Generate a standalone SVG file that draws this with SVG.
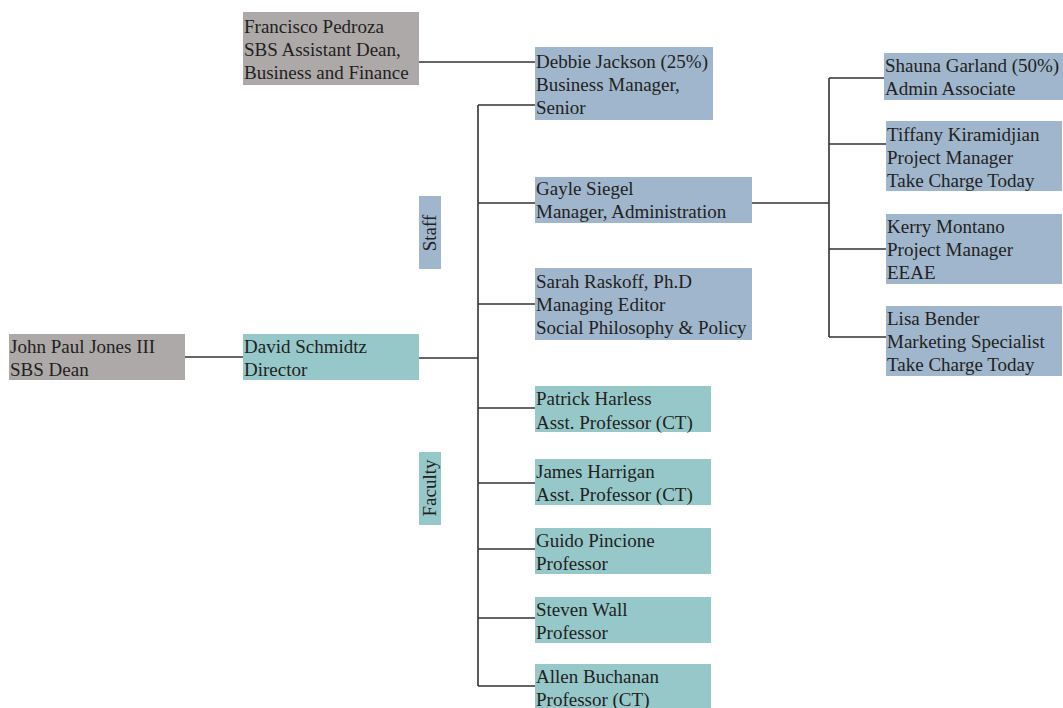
<svg xmlns="http://www.w3.org/2000/svg" width="1063" height="708" viewBox="0 0 1063 708">
<style>
.t{font-family:"Liberation Serif","DejaVu Serif",serif;font-size:19px;fill:#231F20}
.g{fill:#ADA9A8}.b{fill:#A0B6CD}.c{fill:#96C8CA}
.ln{stroke:#333;stroke-width:1.6;fill:none}
</style>
<rect width="1063" height="708" fill="#fff"/>
<g id="connectors" class="ln">
<path d="M419 62H535"/>
<path d="M185 357H243"/>
<path d="M419 358H478"/>
<path d="M478 105V686"/>
<path d="M478 105H535M478 203H535M478 304H535M478 408H535M478 483H535M478 549H535M478 618H535M478 686H535"/>
<path d="M752 203H829"/>
<path d="M829 78V337"/>
<path d="M829 78H884M829 144H886M829 249H886M829 337H886"/>
</g>
<g id="francisco"><rect class="g" x="243" y="12" width="176" height="73"/><text class="t" x="244" y="33">Francisco Pedroza</text><text class="t" x="244" y="56">SBS Assistant Dean,</text><text class="t" x="244" y="79">Business and Finance</text></g>
<g id="debbie"><rect class="b" x="535" y="47" width="178" height="73"/><text class="t" x="536" y="68">Debbie Jackson (25%)</text><text class="t" x="536" y="91">Business Manager,</text><text class="t" x="536" y="114">Senior</text></g>
<g id="gayle"><rect class="b" x="535" y="177" width="217" height="46"/><text class="t" x="536" y="195">Gayle Siegel</text><text class="t" x="536" y="218">Manager, Administration</text></g>
<g id="sarah"><rect class="b" x="535" y="268" width="217" height="72"/><text class="t" x="536" y="288">Sarah Raskoff, Ph.D</text><text class="t" x="536" y="311">Managing Editor</text><text class="t" x="536" y="334">Social Philosophy &amp; Policy</text></g>
<g id="staff"><rect class="b" x="419" y="196" width="22" height="73"/><text class="t" transform="translate(436 233) rotate(-90)" text-anchor="middle">Staff</text></g>
<g id="faculty"><rect class="c" x="419" y="452" width="22" height="73"/><text class="t" transform="translate(436 488) rotate(-90)" text-anchor="middle">Faculty</text></g>
<g id="john"><rect class="g" x="9" y="334" width="176" height="46"/><text class="t" x="10" y="353">John Paul Jones III</text><text class="t" x="10" y="376">SBS Dean</text></g>
<g id="david"><rect class="c" x="243" y="334" width="176" height="46"/><text class="t" x="244" y="353">David Schmidtz</text><text class="t" x="244" y="376">Director</text></g>
<g id="shauna"><rect class="b" x="884" y="53" width="179" height="47"/><text class="t" x="885" y="72">Shauna Garland (50%)</text><text class="t" x="885" y="95">Admin Associate</text></g>
<g id="tiffany"><rect class="b" x="886" y="121" width="176" height="70"/><text class="t" x="887" y="141">Tiffany Kiramidjian</text><text class="t" x="887" y="164">Project Manager</text><text class="t" x="887" y="187">Take Charge Today</text></g>
<g id="kerry"><rect class="b" x="886" y="214" width="176" height="70"/><text class="t" x="887" y="233">Kerry Montano</text><text class="t" x="887" y="256">Project Manager</text><text class="t" x="887" y="279">EEAE</text></g>
<g id="lisa"><rect class="b" x="886" y="306" width="176" height="70"/><text class="t" x="887" y="325">Lisa Bender</text><text class="t" x="887" y="348">Marketing Specialist</text><text class="t" x="887" y="371">Take Charge Today</text></g>
<g id="patrick"><rect class="c" x="535" y="386" width="176" height="46"/><text class="t" x="536" y="405">Patrick Harless</text><text class="t" x="536" y="429">Asst. Professor (CT)</text></g>
<g id="james"><rect class="c" x="535" y="459" width="176" height="46"/><text class="t" x="536" y="478">James Harrigan</text><text class="t" x="536" y="501">Asst. Professor (CT)</text></g>
<g id="guido"><rect class="c" x="535" y="528" width="176" height="46"/><text class="t" x="536" y="547">Guido Pincione</text><text class="t" x="536" y="570">Professor</text></g>
<g id="steven"><rect class="c" x="535" y="597" width="176" height="46"/><text class="t" x="536" y="616">Steven Wall</text><text class="t" x="536" y="639">Professor</text></g>
<g id="allen"><rect class="c" x="535" y="664" width="176" height="44"/><text class="t" x="536" y="683">Allen Buchanan</text><text class="t" x="536" y="706">Professor (CT)</text></g>
</svg>
